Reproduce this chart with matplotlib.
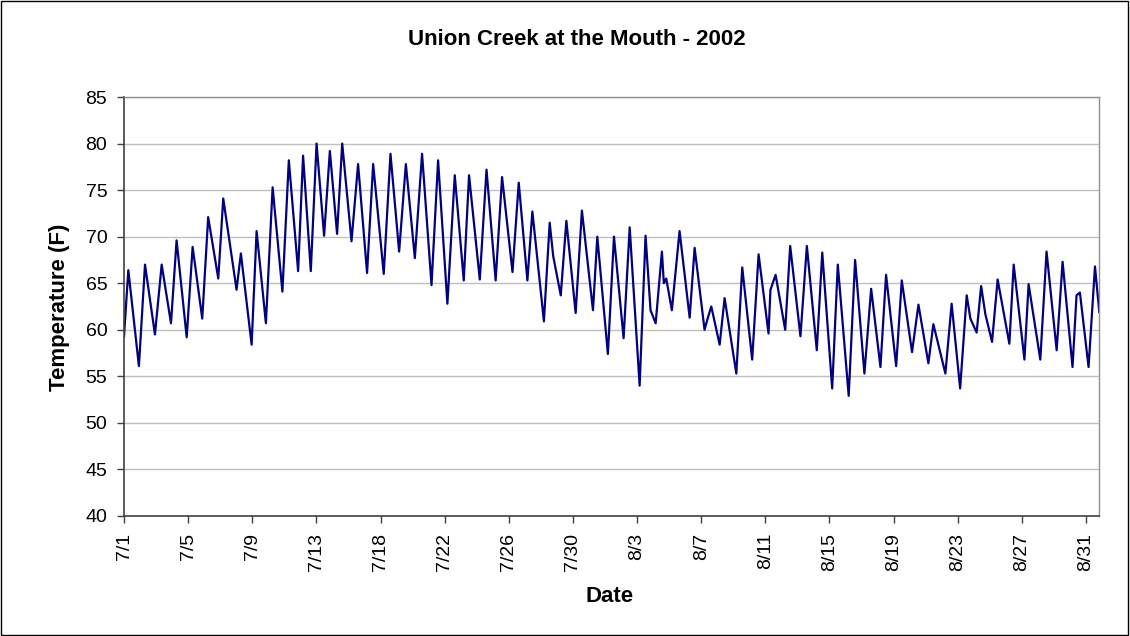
import matplotlib
matplotlib.use("Agg")
import matplotlib.pyplot as plt
from matplotlib.patches import Rectangle

# Category-axis position (in days from 7/1 on the chart's axis) of each daily peak / trough
day_pos = [0.00, 0.27, 0.93, 1.31, 1.93, 2.35, 2.93, 3.28, 3.91, 4.28,
           4.88, 5.25, 5.88, 6.19, 7.02, 7.29, 7.96, 8.27, 8.85, 9.27,
           9.88, 10.28, 10.86, 11.17, 11.65, 12.01, 12.48, 12.84, 13.29, 13.61,
           14.19, 14.60, 15.16, 15.54, 16.20, 16.62, 17.16, 17.58, 18.14, 18.59,
           19.18, 19.59, 20.17, 20.63, 21.19, 21.52, 22.19, 22.61, 23.18, 23.58,
           24.23, 24.62, 25.16, 25.47, 26.19, 26.55, 26.77, 27.24, 27.59, 28.17,
           28.56, 29.25, 29.52, 30.18, 30.56, 31.16, 31.54, 32.16, 32.53, 32.84,
           33.16, 33.55, 33.67, 33.82, 34.17, 34.65, 35.28, 35.59, 36.21, 36.40,
           36.63, 37.15, 37.46, 38.19, 38.56, 39.18, 39.58, 40.20, 40.32, 40.64,
           41.24, 41.55, 42.19, 42.59, 43.21, 43.55, 44.17, 44.52, 45.20, 45.60,
           46.18, 46.60, 47.18, 47.53, 48.16, 48.51, 49.15, 49.55, 50.17, 50.48,
           51.23, 51.62, 52.15, 52.56, 52.79, 53.18, 53.46, 53.72, 54.14, 54.49,
           55.22, 55.49, 56.16, 56.42, 57.15, 57.54, 58.17, 58.54, 59.16, 59.41,
           59.62, 60.16, 60.56, 60.83]

temp_f = [59.3, 66.4, 56.1, 67.0, 59.5, 67.0, 60.7, 69.6, 59.2, 68.9,
          61.2, 72.1, 65.5, 74.1, 64.3, 68.2, 58.4, 70.6, 60.7, 75.3,
          64.1, 78.2, 66.3, 78.7, 66.3, 80.0, 70.1, 79.2, 70.3, 80.0,
          69.5, 77.8, 66.1, 77.8, 66.0, 78.9, 68.4, 77.8, 67.7, 78.9,
          64.8, 78.2, 62.8, 76.6, 65.3, 76.6, 65.4, 77.2, 65.3, 76.4,
          66.2, 75.8, 65.3, 72.7, 60.9, 71.5, 67.9, 63.7, 71.7, 61.8,
          72.8, 62.1, 70.0, 57.4, 70.0, 59.1, 71.0, 54.0, 70.1, 62.1,
          60.7, 68.4, 65.0, 65.5, 62.1, 70.6, 61.3, 68.8, 60.0, 61.2,
          62.5, 58.4, 63.4, 55.3, 66.7, 56.8, 68.1, 59.6, 64.3, 65.9,
          60.0, 69.0, 59.3, 69.0, 57.8, 68.3, 53.7, 67.0, 52.9, 67.5,
          55.3, 64.4, 56.0, 65.9, 56.1, 65.3, 57.6, 62.7, 56.4, 60.6,
          55.3, 62.8, 53.7, 63.7, 61.2, 59.7, 64.7, 61.7, 58.7, 65.4,
          58.5, 67.0, 56.8, 64.9, 56.8, 68.4, 57.8, 67.3, 56.0, 63.7,
          64.0, 56.0, 66.8, 61.9]

tick_labels = ["7/1", "7/5", "7/9", "7/13", "7/18", "7/22", "7/26", "7/30",
               "8/3", "8/7", "8/11", "8/15", "8/19", "8/23", "8/27", "8/31"]
y_ticks = [40, 45, 50, 55, 60, 65, 70, 75, 80, 85]

plt.rcParams['font.family'] = ['Liberation Sans', 'DejaVu Sans']

fig = plt.figure(figsize=(11.30, 6.36), dpi=100)
fig.patch.set_facecolor("white")
ax = fig.add_axes([124 / 1130, 1 - 516 / 636, (1099.3 - 124) / 1130, (516 - 97) / 636])

ax.plot(day_pos, temp_f, color="#000080", lw=1.6, solid_joinstyle="round")

ax.set_xlim(0, 60.83)
ax.set_ylim(40, 85)
ax.set_yticks(y_ticks)
ax.set_yticklabels([str(v) for v in y_ticks], fontsize=14)
ax.set_xticks([4 * i for i in range(len(tick_labels))])
ax.set_xticklabels(tick_labels, rotation=90, fontsize=14)
ax.tick_params(axis="y", direction="out", length=5, width=1, color="#404040", pad=7)
ax.tick_params(axis="x", direction="out", length=5, width=1, color="#404040", pad=7)

ax.grid(axis="y", color="#c0c0c0", lw=1)
ax.set_axisbelow(True)
for side in ["top", "right"]:
    ax.spines[side].set_color("#909090")
    ax.spines[side].set_linewidth(1)
for side in ["left", "bottom"]:
    ax.spines[side].set_color("#404040")
    ax.spines[side].set_linewidth(1.2)

fig.text(576.7 / 1130, 1 - 45 / 636, "Union Creek at the Mouth - 2002",
         ha="center", va="baseline", fontsize=16, fontweight="bold")
fig.text(60 / 1130, 1 - 307 / 636, "Temperature (F)", rotation=90,
         ha="center", va="center", fontsize=16, fontweight="bold")
fig.text(610 / 1130, 1 - 596 / 636, "Date",
         ha="center", va="center", fontsize=16, fontweight="bold")

fig.patches.append(Rectangle((0.0005, 0.001), 0.998, 0.997, transform=fig.transFigure,
                             fill=False, edgecolor="black", lw=1))

fig.savefig("out.png", dpi=100)
